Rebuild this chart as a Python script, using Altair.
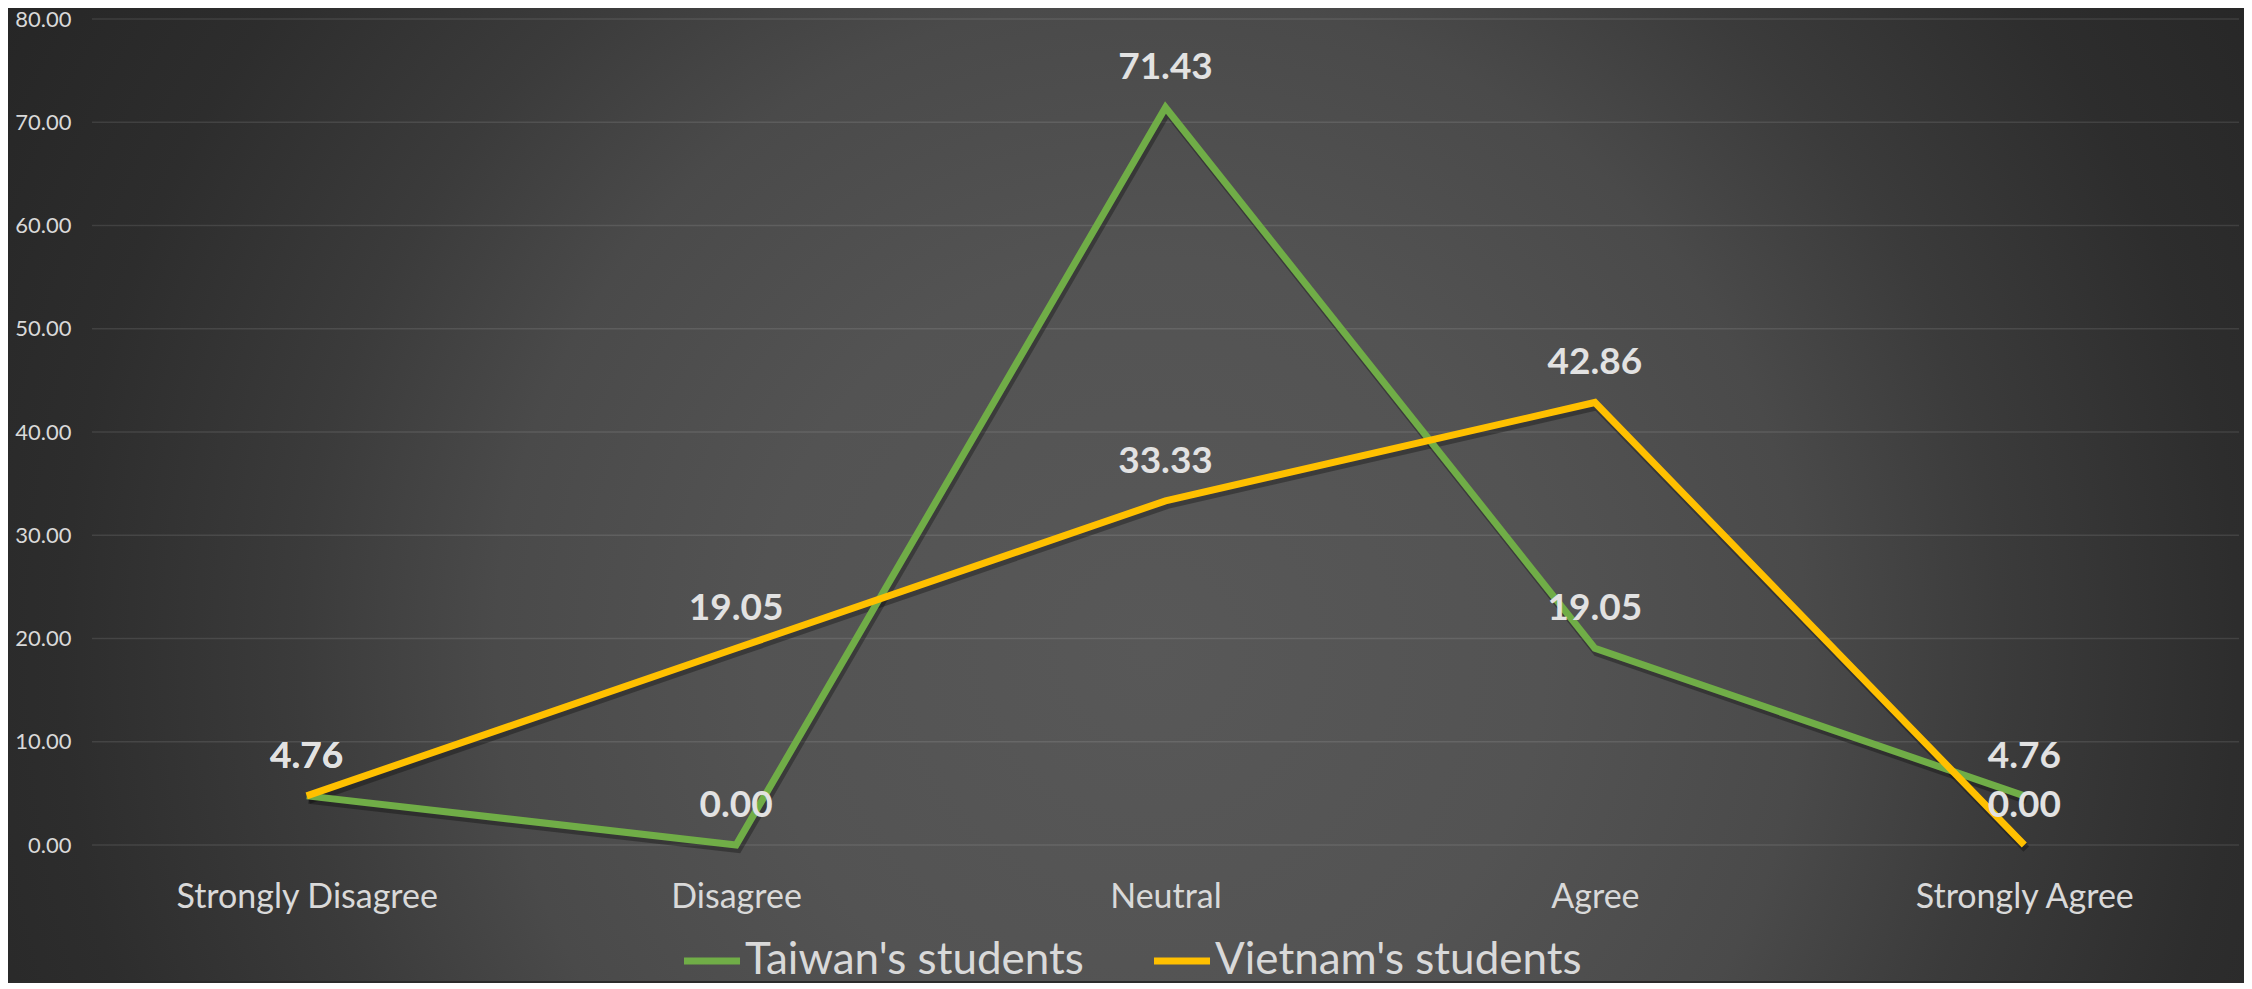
import altair as alt
import pandas as pd

# ---- data ----
categories = ["Strongly Disagree", "Disagree", "Neutral", "Agree", "Strongly Agree"]
series_names = ["Taiwan's students", "Vietnam's students"]
taiwan = [4.76, 0.00, 71.43, 19.05, 4.76]
vietnam = [4.76, 19.05, 33.33, 42.86, 0.00]
y_ticks = [0, 10, 20, 30, 40, 50, 60, 70, 80]
series_colors = ["#70AD47", "#FFC000"]

rows = []
for s, vals in zip(series_names, [taiwan, vietnam]):
    for c, v in zip(categories, vals):
        rows.append({"category": c, "series": s, "value": v})
df = pd.DataFrame(rows)
grid_df = pd.DataFrame({"value": y_ticks})
bg_df = pd.DataFrame({"bg": [0]})

W, H = 2147, 826
TOP = 11
FONT = "Lato"
LABEL_COLOR = "#d9d9d9"

x_scale = alt.Scale(type="point", padding=0.5, domain=categories)
y_scale = alt.Scale(domain=[0, 80], nice=False, zero=True)

x_axis = alt.Axis(labelAngle=0, domain=False, ticks=False, grid=False,
                  labelPadding=35, labelFont=FONT, labelFontSize=34, labelLimit=0,
                  labelColor=LABEL_COLOR, zindex=1)
y_axis = alt.Axis(values=y_ticks, format=".2f", domain=False, ticks=False, grid=False,
                  labelPadding=21, labelFont=FONT, labelFontSize=22,
                  labelColor=LABEL_COLOR, zindex=1)

x_enc = alt.X("category:N", scale=x_scale, sort=categories, title=None, axis=x_axis)
y_enc = alt.Y("value:Q", scale=y_scale, title=None, axis=y_axis)

gradient = {
    "gradient": "radial",
    "x1": 0.511, "y1": 0.57, "r1": 0,
    "x2": 0.511, "y2": 0.57, "r2": 0.586,
    "stops": [
        {"offset": 0.0, "color": "#585858"},
        {"offset": 0.3, "color": "#535353"},
        {"offset": 0.5, "color": "#4a4a4a"},
        {"offset": 0.65, "color": "#3b3b3b"},
        {"offset": 0.83, "color": "#2d2d2d"},
        {"offset": 1.0, "color": "#262626"},
    ],
}

bg = alt.Chart(bg_df).mark_rect(fill=gradient, strokeWidth=0).encode(
    x=alt.value(-84), x2=alt.value(W + 5),
    y=alt.value(-TOP), y2=alt.value(973 - TOP),
)

grid = alt.Chart(grid_df).mark_rule(color="#ffffff", opacity=0.1, strokeWidth=1.5).encode(
    y=y_enc,
    x=alt.value(0), x2=alt.value(W),
)

shadow = alt.Chart(df).mark_line(
    color="#000000", opacity=0.3, strokeWidth=8, xOffset=2, yOffset=4
).encode(
    x=x_enc,
    y=y_enc,
    detail="series:N",
)

lines = alt.Chart(df).mark_line(strokeWidth=7, strokeJoin="miter").encode(
    x=x_enc,
    y=y_enc,
    color=alt.Color(
        "series:N",
        scale=alt.Scale(domain=series_names, range=series_colors),
        legend=alt.Legend(
            orient="none", legendX=598, legendY=920, direction="horizontal",
            title=None, symbolType="M-4,0H4", symbolSize=196, symbolStrokeWidth=7,
            labelFont=FONT, labelFontSize=44, labelColor=LABEL_COLOR,
            labelOffset=11, columnPadding=56, padding=0, labelLimit=0,
        ),
    ),
)

labels = alt.Chart(df).mark_text(
    font=FONT, fontWeight="bold", fontSize=37, color="#e2e2e2",
    baseline="alphabetic", dy=-28,
).encode(
    x=x_enc,
    y=y_enc,
    text=alt.Text("value:Q", format=".2f"),
)

chart = alt.layer(bg, grid, shadow, lines, labels).properties(
    width=W, height=H, padding=0, background="#2b2b2b"
).configure_view(stroke=None)

chart.save("out.html", embed_options={"renderer": "svg", "actions": False})
